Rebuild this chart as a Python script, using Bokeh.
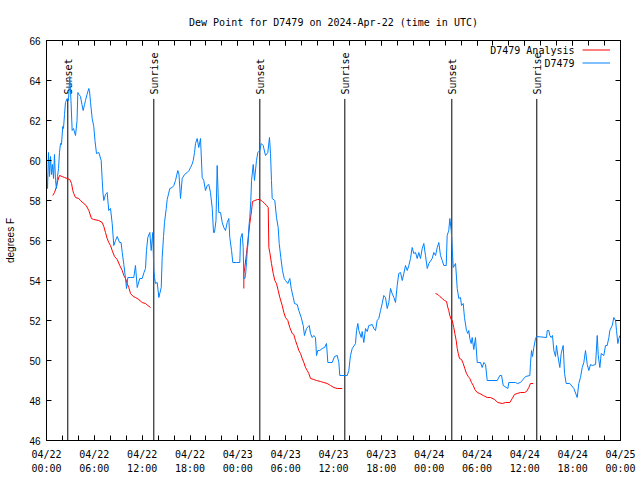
import numpy as np
import pandas as pd
from math import pi
from bokeh.plotting import figure
from bokeh.models import (Range1d, FixedTicker, DatetimeTickFormatter, LinearAxis, DatetimeAxis,
                          Label, Legend, LegendItem, ColumnDataSource, CustomJSTickFormatter)
from bokeh.core.properties import value
from bokeh.embed import file_html
from bokeh.resources import INLINE

START = pd.Timestamp("2024-04-22 00:00")
END = pd.Timestamp("2024-04-25 00:00")

TITLE = "Dew Point for D7479 on 2024-Apr-22 (time in UTC)"
Y_LABEL = "degrees F"
OBS_NAME = "D7479"
ANA_NAME = "D7479 Analysis"

# observed dew point (hours since 04/22 00:00 UTC, degF)
obs_hours = [0.00, 0.13, 0.25, 0.38, 0.50, 0.63, 0.75, 0.88, 1.00, 1.13, 1.25, 1.38, 1.51, 1.63, 1.76, 1.88,
             2.04, 2.13, 2.26, 2.38, 2.60, 2.76, 2.92, 3.07, 3.22, 3.39, 3.64, 3.83, 3.93, 4.08, 4.26, 4.45,
             4.60, 4.77, 4.89, 5.08, 5.31, 5.39, 5.52, 5.73, 5.93, 6.08, 6.27, 6.56, 6.86, 6.99, 7.09, 7.19,
             7.40, 7.61, 7.81, 8.03, 8.24, 8.44, 8.66, 8.87, 9.16, 9.35, 9.50, 9.70, 9.91, 10.04, 10.20,
             10.54, 10.95, 11.16, 11.38, 11.70, 12.00, 12.23, 12.42, 12.54, 12.71, 12.96, 13.13, 13.33,
             13.46, 13.55, 13.67, 13.89, 14.09, 14.39, 14.51, 14.68, 14.80, 15.02, 15.14, 15.47, 15.77,
             15.97, 16.18, 16.47, 16.62, 16.81, 17.02, 17.31, 17.65, 17.88, 18.06, 18.25, 18.40, 18.57,
             18.69, 18.90, 19.10, 19.32, 19.53, 19.73, 19.94, 20.16, 20.36, 20.57, 20.79, 20.95, 21.07,
             21.26, 21.41, 21.61, 21.83, 22.04, 22.24, 22.45, 22.67, 22.87, 22.99, 23.21, 23.37, 23.83,
             24.25, 24.34, 24.55, 24.67, 24.75, 24.87, 24.96, 25.09, 25.18, 25.30, 25.38, 25.50, 25.63,
             25.72, 25.93, 26.09, 26.34, 26.51, 26.76, 26.93, 27.18, 27.47, 27.76, 27.97, 28.10, 28.22,
             28.31, 28.64, 28.85, 29.06, 29.19, 29.39, 29.60, 29.82, 29.98, 30.27, 30.52, 30.70, 30.95,
             31.11, 31.45, 31.65, 31.95, 32.20, 32.36, 32.61, 32.95, 33.12, 33.33, 33.53, 33.74, 33.87,
             34.03, 34.28, 34.58, 34.87, 35.12, 35.29, 35.84, 36.13, 36.47, 36.67, 36.79, 37.72, 37.92,
             38.13, 38.35, 38.76, 38.89, 39.05, 39.18, 39.48, 39.60, 39.80, 40.02, 40.23, 40.43, 40.86,
             41.06, 41.27, 41.48, 41.68, 41.90, 42.11, 42.31, 42.52, 42.74, 42.94, 43.15, 43.36, 43.57,
             43.78, 43.99, 44.19, 44.41, 44.62, 44.82, 45.03, 45.25, 45.45, 45.66, 45.87, 46.07, 46.29,
             46.50, 46.70, 46.91, 47.13, 47.33, 47.54, 47.76, 47.96, 48.38, 48.58, 48.80, 49.01, 49.21,
             49.42, 49.64, 49.84, 50.14, 50.26, 50.46, 50.59, 50.77, 50.89, 51.02, 51.31, 51.52, 51.72,
             51.93, 52.06, 52.27, 52.43, 52.68, 52.85, 52.97, 53.10, 53.27, 53.40, 53.60, 53.81, 54.03,
             54.44, 54.65, 54.86, 55.07, 55.28, 56.54, 56.86, 57.08, 57.29, 57.87, 57.99, 58.83, 59.05,
             59.46, 60.09, 60.63, 60.71, 60.84, 60.96, 61.13, 61.34, 61.47, 62.72, 62.81, 63.01, 63.13,
             63.31, 63.47, 63.64, 63.85, 63.97, 64.14, 64.39, 64.56, 64.81, 64.98, 65.19, 65.64, 66.15,
             66.57, 66.77, 66.98, 67.20, 67.40, 67.61, 67.83, 68.03, 68.24, 68.45, 68.87, 69.08, 69.21,
             69.41, 69.58, 69.91, 70.12, 70.33, 70.54, 70.66, 70.96, 71.16, 71.38, 71.50, 71.67, 71.79,
             71.92]
obs_dewpt = [59.4, 58.6, 60.4, 59.2, 60.2, 59.3, 59.8, 59.1, 60.3, 59.0, 58.6, 59.2, 59.6, 60.4, 60.85, 60.8,
             61.7, 61.6, 62.3, 62.9, 63.1, 63.0, 64.2, 63.0, 61.5, 61.6, 61.25, 62.0, 63.4, 63.3, 63.2, 62.8,
             62.5, 62.8, 63.0, 63.3, 63.6, 63.5, 62.9, 62.1, 61.7, 61.0, 60.35, 60.4, 60.0, 59.0, 58.35, 58.0,
             58.3, 58.4, 57.5, 57.6, 56.85, 55.75, 56.0, 56.2, 55.9, 55.9, 55.4, 54.8, 54.1, 53.6, 54.15,
             54.15, 54.15, 54.75, 53.65, 54.1, 54.1, 54.4, 54.6, 55.5, 56.15, 56.4, 55.5, 56.4,
             54.5, 54.15, 53.85, 53.9, 53.15, 53.65, 55.15, 56.2, 56.9, 57.6, 58.05, 58.6, 58.65,
             58.75, 59.0, 59.5, 59.3, 58.1, 59.1, 59.3, 59.4, 59.5, 59.65, 59.8, 60.0, 60.4,
             60.85, 61.1, 60.65, 61.1, 59.15, 59.0, 58.5, 58.75, 58.8, 58.4, 57.6, 56.4, 56.4,
             57.0, 59.75, 57.4, 57.4, 56.9, 56.65, 56.5, 56.9, 57.1, 56.15, 55.5, 54.9, 54.9,
             54.9, 56.1, 56.35, 55.65, 54.1, 54.1, 54.25, 54.9, 55.5, 55.9, 56.65, 57.15, 58.0,
             59.0, 59.8, 59.0, 60.0, 60.4, 60.5, 60.85, 60.75, 60.25, 60.4, 61.15, 60.35, 59.0,
             58.1, 58.0, 57.15, 56.65, 55.85, 55.15, 54.5, 54.1, 54.0, 53.85, 54.1, 53.6, 53.15,
             52.85, 52.8, 52.5, 52.15, 51.75, 51.25, 51.6, 51.75, 51.35, 51.15, 51.25, 51.15, 50.25,
             50.5, 50.5, 50.6, 50.65, 50.85, 49.9, 49.9, 50.2, 50.25, 49.9, 49.25, 49.25, 49.5,
             50.25, 50.6, 50.85, 51.5, 51.85, 51.5, 51.15, 51.45, 50.9, 51.6, 51.45, 51.75, 51.8,
             51.6, 51.5, 52.0, 52.1, 52.5, 52.85, 53.25, 53.15, 52.6, 52.9, 53.6, 53.35, 53.15,
             52.9, 53.75, 54.35, 54.4, 54.0, 54.35, 54.75, 54.5, 54.75, 55.1, 55.65, 55.35, 55.4,
             55.1, 55.4, 55.1, 55.6, 55.85, 55.25, 54.6, 54.85, 55.1, 55.4, 55.25, 55.65, 55.9,
             55.25, 55.0, 54.75, 54.75, 56.25, 56.5, 57.1, 56.5, 55.6, 54.65, 54.85, 53.6, 53.1,
             53.15, 52.75, 52.85, 52.15, 51.5, 51.35, 51.5, 51.1, 50.85, 51.15, 50.55, 51.15, 49.9,
             49.9, 49.65, 49.9, 49.8, 49.0, 49.0, 49.25, 49.25, 48.75, 48.6, 48.9, 48.9, 48.85,
             48.9, 49.2, 49.25, 49.85, 50.5, 50.2, 50.65, 51.1, 51.2, 51.15, 51.5, 51.5, 51.25,
             51.15, 51.25, 50.5, 50.2, 50.75, 50.25, 49.65, 50.35, 50.75, 49.35, 48.85, 48.85, 48.6,
             48.15, 48.85, 49.15, 49.65, 49.9, 50.5, 49.8, 49.5, 49.8, 49.75, 49.8, 51.25, 50.25,
             49.65, 50.35, 50.25, 50.75, 50.75, 51.15, 51.5, 51.75, 52.15, 52.0, 51.5, 50.85, 51.1,
             51.25]

# analysis dew point, three runs
ana1_hours = [0.79, 1.00, 1.22, 1.42, 1.63, 1.97, 2.26, 2.60, 2.92, 3.14, 3.30, 3.42, 3.64, 4.05, 4.26,
              4.68, 4.98, 5.31, 5.64, 5.93, 6.56, 6.99, 7.19, 7.40, 7.61, 7.81, 8.03, 8.24, 8.53, 8.87,
              9.19, 9.50, 9.70, 9.91, 10.12, 10.32, 10.54, 10.88, 11.16, 11.58, 12.00, 12.42, 12.71, 13.05]
ana1_dewpt = [58.25, 58.4, 58.65, 59.0, 59.25, 59.2, 59.15, 59.1, 59.05, 58.85, 58.5, 58.35, 58.15, 58.1,
              58.0, 57.85, 57.75, 57.5, 57.1, 57.05, 57.0, 56.9, 56.7, 56.4, 56.1, 55.9, 55.75, 55.5, 55.2,
              55.05, 54.75, 54.5, 54.25, 54.1, 53.85, 53.65, 53.35, 53.2, 53.15, 53.05, 52.9, 52.85,
              52.75, 52.65]
ana2_hours = [24.75, 24.76, 24.87, 25.09, 25.30, 25.50, 25.72, 25.84, 26.13, 26.47, 26.76, 27.10, 27.38,
              27.60, 27.81, 27.89, 28.01, 28.22, 28.44, 28.64, 28.85, 29.06, 29.27, 29.57, 29.77, 29.98,
              30.27, 30.52, 30.82, 31.02, 31.23, 31.45, 31.65, 31.86, 32.08, 32.28, 32.49, 32.70, 32.90,
              33.12, 33.53, 33.87, 34.37, 34.78, 35.21, 35.63, 36.04, 36.47, 37.09]
ana2_dewpt = [53.6, 54.35, 54.65, 55.35, 56.15, 56.85, 57.5, 57.95, 58.0, 58.05, 58.05, 57.95, 57.85,
              57.75, 57.65, 55.65, 55.4, 54.85, 54.35, 54.0, 53.85, 53.5, 53.15, 52.75, 52.4, 52.15,
              52.0, 51.65, 51.35, 51.3, 51.0, 50.75, 50.5, 50.35, 50.1, 49.9, 49.65, 49.5, 49.35,
              49.1, 49.05, 49.0, 48.95, 48.9, 48.85, 48.75, 48.65, 48.6, 48.6]
ana3_hours = [48.80, 49.09, 49.34, 49.64, 49.93, 50.18, 50.34, 50.46, 50.59, 50.77, 50.89, 51.09, 51.22,
              51.39, 51.52, 51.65, 51.81, 52.06, 52.27, 52.47, 52.68, 52.90, 53.10, 53.31, 53.53, 53.73,
              54.03, 54.35, 54.78, 55.28, 55.70, 56.20, 56.61, 57.16, 57.58, 58.12, 58.42, 58.70, 59.04,
              59.46, 59.96, 60.21, 60.50, 60.71, 61.05]
ana3_dewpt = [53.35, 53.3, 53.2, 53.1, 53.0, 52.95, 52.65, 52.5, 52.25, 52.05, 52.0, 51.65, 51.35,
              51.0, 50.6, 50.35, 50.1, 50.05, 49.85, 49.6, 49.35, 49.2, 49.1, 48.9, 48.75, 48.55,
              48.4, 48.35, 48.25, 48.15, 48.15, 48.05, 47.9, 47.85, 47.9, 47.9, 48.1, 48.3, 48.35,
              48.4, 48.4, 48.45, 48.65, 48.85, 48.85]

# sun events (hours since 04/22 00:00 UTC)
event_hours = [2.67, 13.46, 26.76, 37.42, 50.84, 61.50]
event_names = ["Sunset", "Sunrise", "Sunset", "Sunrise", "Sunset", "Sunrise"]

y_ticks = [46, 48, 50, 52, 54, 56, 58, 60, 62, 64, 66]


def to_time(hours):
    return START + pd.to_timedelta(np.asarray(hours, dtype=float), unit="h")


obs_src = ColumnDataSource(dict(t=to_time(obs_hours), v=obs_dewpt))
ana_h = ana1_hours + [np.nan] + ana2_hours + [np.nan] + ana3_hours
ana_v = ana1_dewpt + [np.nan] + ana2_dewpt + [np.nan] + ana3_dewpt
ana_src = ColumnDataSource(dict(t=to_time(np.nan_to_num(ana_h, nan=0.0)), v=ana_v))
ev_src = ColumnDataSource(dict(t=to_time(event_hours), name=event_names))

YMIN, YMAX = y_ticks[0], y_ticks[-1]
LINE_TOP = 63.08
LABEL_Y = 63.3

p = figure(width=640, height=480, x_axis_type="datetime",
           x_range=Range1d(START, END), y_range=Range1d(YMIN, YMAX),
           output_backend="svg", toolbar_location=None,
           min_border_left=46, min_border_right=20, min_border_top=40, min_border_bottom=40)

p.title.text = TITLE
p.title.align = "center"
p.title.text_font = "DejaVu Sans Mono"
p.title.text_font_size = "10px"
p.title.text_font_style = "normal"
p.title.text_color = "black"
p.title.standoff = 25

p.xgrid.visible = False
p.ygrid.visible = False
p.outline_line_color = "black"
p.outline_line_alpha = 1.0
p.background_fill_color = "white"
p.border_fill_color = "white"

major_ms = [int((START + pd.Timedelta(hours=h)).value // 10**6) for h in range(0, 73, 6)]
minor_ms = [int((START + pd.Timedelta(hours=h)).value // 10**6) for h in range(0, 73, 2)]
xticker = FixedTicker(ticks=major_ms, minor_ticks=minor_ms)
fmt = "%m/%d\n%H:%M"
xfmt = DatetimeTickFormatter(microseconds=fmt, milliseconds=fmt, seconds=fmt, minsec=fmt,
                             minutes=fmt, hourmin=fmt, hours=fmt, days=fmt, months=fmt, years=fmt)
blank_fmt = CustomJSTickFormatter(code="return '';")


def style_x(ax, labels=True):
    ax.ticker = xticker
    ax.formatter = xfmt if labels else blank_fmt
    ax.major_tick_in = 5
    ax.major_tick_out = 0
    ax.minor_tick_in = 5
    ax.minor_tick_out = 0
    ax.axis_line_color = "black"
    ax.major_tick_line_color = "black"
    ax.minor_tick_line_color = "black"
    ax.major_label_text_font = "DejaVu Sans Mono"
    ax.major_label_text_font_size = "10px"
    ax.major_label_text_color = "black"
    ax.major_label_text_line_height = 1.35
    ax.major_label_standoff = 8 if labels else 0


def style_y(ax, labels=True):
    ax.ticker = FixedTicker(ticks=y_ticks)
    if not labels:
        ax.formatter = blank_fmt
    ax.major_tick_in = 5
    ax.major_tick_out = 0
    ax.minor_tick_line_color = None
    ax.axis_line_color = "black"
    ax.major_tick_line_color = "black"
    ax.major_label_text_font = "Liberation Sans"
    ax.major_label_text_font_size = "10px"
    ax.major_label_text_color = "black"
    ax.major_label_standoff = 6 if labels else 0


style_x(p.xaxis[0])
style_y(p.yaxis[0])
p.yaxis[0].axis_label = Y_LABEL
p.yaxis[0].axis_label_text_font = "Liberation Sans"
p.yaxis[0].axis_label_text_font_size = "10px"
p.yaxis[0].axis_label_text_font_style = "normal"
p.yaxis[0].axis_label_text_color = "black"
p.yaxis[0].axis_label_standoff = 10

top_ax = DatetimeAxis()
style_x(top_ax, labels=False)
p.add_layout(top_ax, "above")
right_ax = LinearAxis()
style_y(right_ax, labels=False)
p.add_layout(right_ax, "right")

# sunrise / sunset markers
p.segment(x0="t", y0=YMIN, x1="t", y1=LINE_TOP, source=ev_src, line_color="black", line_width=1)
p.text(x="t", y=LABEL_Y, text="name", source=ev_src, angle=pi / 2, text_align="left",
       text_baseline="alphabetic", x_offset=1, text_font=value("DejaVu Sans Mono"),
       text_font_size="10px", text_color="black")

ana_r = p.line(x="t", y="v", source=ana_src, line_color="#ff0000", line_width=1)
obs_r = p.line(x="t", y="v", source=obs_src, line_color="#0080ff", line_width=1)

# key: text right-aligned, sample line to its right (gnuplot style)
legend = Legend(items=[LegendItem(label=" ", renderers=[ana_r]), LegendItem(label=" ", renderers=[obs_r])],
                location=(535.7, 371.2), orientation="vertical", border_line_color=None,
                background_fill_alpha=0, padding=0, margin=0, spacing=0, glyph_width=28,
                glyph_height=13, label_height=13, label_width=0, label_standoff=0,
                label_text_font_size="10px", label_text_font="DejaVu Sans Mono")
p.add_layout(legend)
p.add_layout(Label(x=528, y=390, x_units="screen", y_units="screen", text=ANA_NAME,
                   text_align="right", text_baseline="middle", text_font="DejaVu Sans Mono",
                   text_font_size="10px", text_color="black"))
p.add_layout(Label(x=528, y=377.3, x_units="screen", y_units="screen", text=OBS_NAME,
                   text_align="right", text_baseline="middle", text_font="DejaVu Sans Mono",
                   text_font_size="10px", text_color="black"))

open("out.html", "w").write(file_html(p, INLINE))
